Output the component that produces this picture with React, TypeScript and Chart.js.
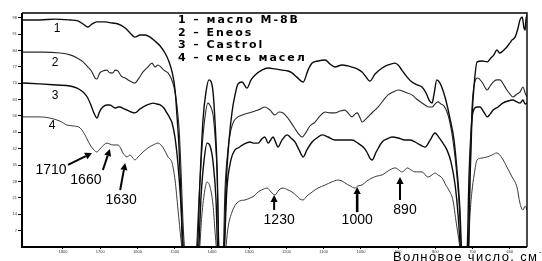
import React, { useEffect, useRef } from 'react';
import { Chart, registerables } from 'chart.js';

Chart.register(...registerables);

// ---- axis ticks ----
const xTicks = [1800, 1700, 1600, 1500, 1400, 1300, 1200, 1100, 1000, 900, 800, 700, 600];
const yTicks = [7, 14, 21, 28, 35, 42, 49, 56, 63, 70, 77, 84, 91, 98];

// ---- curve 1: масло М-8В ----
const wn1 = [1910, 1862, 1821, 1781, 1760, 1746, 1733, 1722, 1709, 1687, 1668, 1652, 1633, 1620, 1607, 1593, 1580, 1566, 1553, 1539, 1526, 1515, 1507, 1499, 1494, 1488, 1483, 1478, 1459, 1440, 1432, 1424, 1416, 1408, 1403, 1397, 1392, 1386, 1381, 1376, 1368, 1362, 1354, 1346, 1338, 1330, 1319, 1306, 1295, 1284, 1266, 1249, 1231, 1212, 1196, 1185, 1172, 1155, 1142, 1131, 1115, 1096, 1083, 1070, 1051, 1035, 1024, 1010, 997, 986, 976, 962, 943, 927, 908, 898, 890, 876, 863, 847, 836, 825, 817, 809, 804, 796, 788, 780, 772, 761, 750, 742, 734, 729, 721, 712, 707, 702, 696, 688, 675, 661, 651, 643, 635, 627, 616, 608, 600, 594, 586, 578, 573, 567, 562, 559, 557, 554];
const t1 = [97.0, 97.0, 97.4, 97.0, 96.6, 95.3, 94.0, 95.3, 96.2, 96.2, 95.7, 95.3, 93.6, 91.5, 89.7, 90.6, 90.6, 89.7, 88.0, 85.9, 82.9, 79.1, 74.8, 67.1, 56.4, 41.5, 20.1, -3.4, -6.4, -3.4, 28.6, 54.3, 66.2, 71.4, 70.9, 66.2, 54.3, 32.9, -3.4, -6.4, -3.4, 26.5, 45.7, 57.7, 65.0, 69.7, 70.5, 67.9, 71.4, 73.5, 75.6, 76.5, 76.1, 75.6, 75.2, 74.4, 72.6, 70.5, 75.6, 78.6, 79.5, 79.9, 78.2, 76.9, 77.8, 77.4, 76.9, 76.1, 74.8, 72.6, 70.9, 73.9, 76.5, 77.8, 78.6, 77.4, 75.6, 72.6, 70.5, 69.2, 68.4, 65.8, 62.8, 61.5, 65.0, 71.4, 70.1, 67.1, 62.8, 55.1, 45.7, 32.9, 15.8, -3.4, -6.4, -3.4, 28.6, 54.3, 69.2, 79.1, 79.5, 79.1, 80.8, 82.1, 84.2, 82.9, 84.2, 85.5, 87.2, 88.5, 89.7, 93.6, 97.0, 98.3, 93.6, 92.7, 97.0, 99.1];

// ---- curve 2: Eneos ----
const wn2 = [1910, 1854, 1808, 1781, 1762, 1746, 1733, 1722, 1714, 1709, 1701, 1693, 1682, 1674, 1666, 1660, 1652, 1644, 1633, 1625, 1615, 1607, 1596, 1585, 1572, 1561, 1553, 1545, 1537, 1529, 1518, 1510, 1502, 1494, 1488, 1483, 1478, 1472, 1459, 1443, 1435, 1427, 1419, 1411, 1403, 1397, 1392, 1386, 1381, 1376, 1370, 1365, 1357, 1349, 1341, 1330, 1311, 1292, 1276, 1258, 1244, 1231, 1220, 1209, 1196, 1180, 1169, 1158, 1147, 1137, 1123, 1110, 1096, 1083, 1070, 1056, 1043, 1032, 1024, 1016, 1010, 1002, 997, 989, 981, 968, 954, 941, 927, 914, 900, 882, 863, 847, 828, 817, 809, 801, 793, 785, 777, 766, 755, 745, 737, 729, 721, 712, 707, 702, 696, 686, 675, 661, 653, 645, 635, 627, 616, 608, 600, 592, 581, 573, 565, 559, 554];
const t2 = [83.3, 83.3, 82.9, 82.1, 80.8, 79.1, 76.9, 74.8, 72.2, 71.8, 74.4, 75.2, 75.6, 74.4, 74.4, 75.6, 75.2, 73.1, 72.2, 71.4, 70.5, 70.1, 72.2, 74.8, 76.9, 78.6, 76.9, 77.8, 76.9, 75.6, 74.4, 72.2, 68.4, 60.7, 50.0, 32.9, 11.5, -3.4, -6.4, -3.4, 20.1, 41.5, 55.1, 61.5, 59.8, 56.4, 47.9, 30.8, -3.4, -6.4, -3.4, 24.4, 41.5, 50.0, 53.8, 55.6, 56.8, 57.7, 58.5, 59.8, 58.5, 56.4, 57.7, 57.3, 55.1, 51.3, 48.7, 47.0, 49.1, 51.7, 53.4, 56.0, 57.7, 57.3, 57.3, 58.1, 58.5, 56.8, 55.6, 56.8, 57.3, 55.1, 53.4, 54.3, 55.6, 57.7, 59.8, 62.4, 65.0, 66.2, 67.1, 66.2, 65.0, 62.8, 60.7, 59.8, 59.8, 61.1, 62.0, 61.1, 60.3, 56.4, 47.9, 35.0, 20.1, -3.4, -6.4, -3.4, 30.8, 58.5, 69.2, 72.2, 70.5, 67.1, 68.8, 70.5, 71.4, 71.4, 69.2, 67.1, 65.4, 64.1, 65.4, 66.2, 68.4, 65.8, 64.1];

// ---- curve 3: Castrol ----
const wn3 = [1910, 1862, 1816, 1781, 1762, 1746, 1735, 1725, 1717, 1709, 1701, 1693, 1682, 1674, 1660, 1652, 1647, 1636, 1628, 1617, 1607, 1593, 1574, 1558, 1548, 1539, 1529, 1521, 1513, 1507, 1499, 1491, 1483, 1475, 1459, 1437, 1429, 1421, 1413, 1405, 1397, 1389, 1384, 1376, 1368, 1360, 1349, 1338, 1330, 1314, 1298, 1287, 1276, 1266, 1258, 1249, 1244, 1236, 1228, 1223, 1212, 1198, 1188, 1177, 1166, 1155, 1145, 1131, 1118, 1104, 1088, 1070, 1048, 1024, 1008, 994, 984, 976, 970, 959, 943, 930, 916, 900, 882, 868, 855, 841, 828, 814, 801, 793, 782, 769, 758, 747, 739, 731, 721, 715, 710, 704, 699, 688, 680, 670, 661, 653, 645, 632, 619, 605, 592, 581, 573, 565, 559, 554];
const t3 = [70.1, 69.7, 69.2, 68.8, 67.9, 66.2, 64.1, 60.7, 57.3, 55.1, 58.1, 59.8, 60.7, 60.7, 59.4, 59.8, 59.8, 59.0, 58.5, 57.7, 57.3, 59.0, 60.7, 61.5, 61.1, 60.7, 59.4, 57.3, 55.1, 53.0, 46.6, 35.0, 17.9, -3.4, -6.4, -3.4, 22.2, 37.2, 44.4, 43.2, 36.3, 20.1, -3.4, -6.4, -3.4, 24.4, 37.2, 41.5, 42.3, 44.0, 44.9, 44.4, 44.4, 46.2, 47.0, 44.4, 45.3, 47.0, 44.4, 42.7, 45.7, 47.9, 46.6, 44.9, 41.5, 38.5, 41.5, 44.9, 46.6, 47.9, 47.0, 45.7, 45.7, 45.7, 44.4, 42.7, 40.6, 38.0, 37.2, 40.6, 44.9, 46.2, 47.0, 46.6, 45.7, 45.7, 44.9, 43.6, 42.7, 45.7, 48.7, 47.4, 44.9, 41.5, 36.3, 26.5, 13.7, -3.4, -6.4, -3.4, 28.6, 50.0, 57.7, 59.8, 59.8, 57.7, 55.6, 56.8, 58.5, 59.8, 61.5, 62.4, 62.8, 62.0, 61.5, 62.8, 61.1, 61.5];

// ---- curve 4: смесь масел ----
const wn4 = [1910, 1862, 1835, 1808, 1789, 1770, 1754, 1741, 1727, 1717, 1709, 1701, 1693, 1682, 1674, 1666, 1652, 1644, 1639, 1628, 1620, 1612, 1607, 1596, 1585, 1572, 1558, 1545, 1537, 1529, 1518, 1507, 1499, 1491, 1483, 1478, 1459, 1435, 1427, 1419, 1413, 1405, 1397, 1392, 1386, 1376, 1365, 1357, 1346, 1335, 1325, 1311, 1298, 1287, 1276, 1266, 1252, 1241, 1231, 1220, 1209, 1196, 1185, 1172, 1164, 1155, 1145, 1131, 1115, 1096, 1078, 1062, 1051, 1043, 1029, 1016, 1008, 997, 984, 970, 957, 943, 927, 908, 898, 890, 882, 876, 865, 855, 836, 820, 809, 801, 793, 782, 772, 761, 753, 745, 737, 731, 721, 712, 707, 702, 696, 688, 675, 661, 648, 635, 621, 608, 594, 581, 573, 565, 559, 554];
const t4 = [55.6, 55.6, 55.1, 53.8, 52.1, 51.7, 50.9, 47.9, 43.6, 41.5, 40.6, 41.9, 43.2, 44.4, 44.0, 43.6, 43.6, 41.9, 40.2, 38.5, 39.3, 38.0, 37.2, 38.9, 40.6, 42.3, 43.6, 44.4, 43.6, 41.9, 38.5, 35.9, 28.6, 15.8, 3.0, -3.4, -6.4, -3.4, 13.7, 24.4, 27.8, 25.6, 17.9, 7.3, -3.4, -6.4, -3.4, 8.1, 15.0, 18.4, 19.7, 20.1, 20.9, 21.8, 23.5, 24.4, 25.2, 23.5, 22.2, 24.4, 25.2, 24.4, 23.5, 21.8, 20.5, 20.1, 21.8, 23.5, 25.2, 26.5, 27.8, 28.6, 28.2, 27.4, 26.1, 25.2, 26.1, 26.5, 28.2, 29.5, 30.3, 30.8, 32.5, 33.8, 32.9, 32.1, 32.9, 33.8, 32.9, 32.1, 32.1, 29.9, 30.8, 31.6, 30.8, 29.5, 26.5, 23.5, 20.1, 11.5, 3.0, -3.4, -6.4, -3.4, 13.7, 23.5, 30.8, 37.2, 38.0, 38.5, 39.3, 40.2, 38.0, 34.2, 29.9, 25.6, 18.8, 15.8, 17.5, 15.8];

// ---- texts ----
const legendLines = ['1 – масло М-8В', '2 – Eneos', '3 – Castrol', '4 – смесь масел'];
const curveNames = ['1', '2', '3', '4'];
const curveNameWn = [1816, 1821, 1821, 1829];
const curveNameT = [93.2, 78.6, 64.5, 51.7];
const annLabels = ['1710', '1660', '1630', '1230', '1000', '890'];
const annWn = [1722, 1674, 1633, 1233, 1010, 895];
const annT = [40.2, 41.9, 35.9, 22.2, 25.6, 29.9];
const axisTitle = 'Волновое число, см';
const axisTitleSup = '-1';

// layout / style (pixels)
const annTail = [[-24, 12], [-7, 21], [-5, 27], [0, 15], [0, 25], [0, 23]];
const annText = [[-41, 17], [-24, 31], [-4, 37], [5, 25], [0, 33], [5, 33]];
const annWidth = [2, 2, 2, 2, 2.6, 2];
const seriesColors = ['#0c0c0c', '#2a2a2a', '#0c0c0c', '#3a3a3a'];
const seriesWidths = [1.4, 1.1, 1.4, 1.0];

function drawArrow(ctx: CanvasRenderingContext2D, x0: number, y0: number, x1: number, y1: number, w: number) {
  const ang = Math.atan2(y1 - y0, x1 - x0);
  const hl = 7, hw = 3.6;
  const bx = x1 - hl * Math.cos(ang), by = y1 - hl * Math.sin(ang);
  ctx.lineWidth = w;
  ctx.beginPath();
  ctx.moveTo(x0, y0);
  ctx.lineTo(bx, by);
  ctx.stroke();
  ctx.beginPath();
  ctx.moveTo(x1, y1);
  ctx.lineTo(bx + hw * Math.sin(ang), by - hw * Math.cos(ang));
  ctx.lineTo(bx - hw * Math.sin(ang), by + hw * Math.cos(ang));
  ctx.closePath();
  ctx.fill();
}

function fitSpacing(ctx: CanvasRenderingContext2D, text: string, target: number) {
  (ctx as any).letterSpacing = '0px';
  const w = ctx.measureText(text).width;
  const n = Array.from(text).length;
  return Math.max(0, (target - w) / (n - 1));
}

const overlay = {
  id: 'overlay',
  afterDraw(chart: any) {
    const { ctx, chartArea: a, scales } = chart;
    const xs = scales.x, ys = scales.y;
    ctx.save();
    ctx.strokeStyle = '#000';
    ctx.fillStyle = '#000';
    // frame
    ctx.lineWidth = 2;
    ctx.beginPath();
    ctx.moveTo(a.left, a.top);
    ctx.lineTo(a.left, a.bottom);
    ctx.lineTo(a.right, a.bottom);
    ctx.stroke();
    ctx.lineWidth = 1.4;
    ctx.beginPath();
    ctx.moveTo(a.left, a.top);
    ctx.lineTo(a.right, a.top);
    ctx.lineTo(a.right, a.bottom);
    ctx.stroke();

    // curve numbers
    ctx.font = '12px "Liberation Sans", Arial, sans-serif';
    ctx.textAlign = 'center';
    ctx.textBaseline = 'middle';
    curveNames.forEach((n, i) => {
      ctx.fillText(n, xs.getPixelForValue(curveNameWn[i]), ys.getPixelForValue(curveNameT[i]));
    });

    // legend
    ctx.font = 'bold 11px "DejaVu Sans", sans-serif';
    ctx.textAlign = 'left';
    const ls = fitSpacing(ctx, legendLines[0], 120);
    (ctx as any).letterSpacing = ls.toFixed(2) + 'px';
    const legY = [7, 20, 32, 45];
    legendLines.forEach((t, i) => {
      ctx.fillText(t, a.left + 156, a.top + legY[i]);
    });
    (ctx as any).letterSpacing = '0px';

    // annotations
    ctx.strokeStyle = '#000';
    ctx.font = '14px "Liberation Sans", Arial, sans-serif';
    ctx.textAlign = 'center';
    ctx.textBaseline = 'middle';
    annLabels.forEach((lab, i) => {
      const px = xs.getPixelForValue(annWn[i]);
      const py = ys.getPixelForValue(annT[i]);
      drawArrow(ctx, px + annTail[i][0], py + annTail[i][1], px, py, annWidth[i]);
      ctx.fillText(lab, px + annText[i][0], py + annText[i][1]);
    });

    // axis title (bottom right, partly cut)
    ctx.font = '13px "Liberation Sans", Arial, sans-serif';
    ctx.textAlign = 'left';
    ctx.textBaseline = 'alphabetic';
    const ts = fitSpacing(ctx, axisTitle, 144);
    (ctx as any).letterSpacing = ts.toFixed(2) + 'px';
    ctx.fillText(axisTitle, a.left + 371, a.bottom + 14);
    (ctx as any).letterSpacing = '0px';
    ctx.font = '8px "Liberation Sans", Arial, sans-serif';
    ctx.fillText(axisTitleSup, a.left + 517, a.bottom + 7);
    ctx.restore();
  },
};

export default function App() {
  const ref = useRef<HTMLCanvasElement | null>(null);
  useEffect(() => {
    if (!ref.current) return;
    const mk = (wn: number[], t: number[]) => wn.map((x, i) => ({ x, y: t[i] }));
    const sets = [[wn1, t1], [wn2, t2], [wn3, t3], [wn4, t4]];
    const chart = new Chart(ref.current, {
      type: 'line',
      data: {
        datasets: sets.map(([w, t], i) => ({
          label: legendLines[i],
          data: mk(w as number[], t as number[]),
          borderColor: seriesColors[i],
          borderWidth: seriesWidths[i],
          pointRadius: 0,
          cubicInterpolationMode: 'monotone' as const,
          fill: false,
        })),
      },
      options: {
        responsive: false,
        animation: false,
        events: [],
        layout: { padding: { top: 13, right: 15, left: 0, bottom: 0 } },
        plugins: { legend: { display: false }, tooltip: { enabled: false } },
        scales: {
          x: {
            type: 'linear',
            reverse: true,
            min: 554,
            max: 1910,
            afterBuildTicks: (s: any) => { s.ticks = xTicks.map((v) => ({ value: v })); },
            afterFit: (s: any) => { s.height = 14; },
            border: { display: false },
            grid: { drawOnChartArea: false, tickLength: 2, color: '#000' },
            ticks: { font: { size: 4 }, color: '#333', padding: 0, maxRotation: 0, autoSkip: false, callback: (v: any) => String(v) },
          },
          y: {
            type: 'linear',
            min: 0,
            max: 100,
            afterBuildTicks: (s: any) => { s.ticks = yTicks.map((v) => ({ value: v })); },
            afterFit: (s: any) => { s.width = 22; },
            border: { display: false },
            grid: { drawOnChartArea: false, tickLength: 4, color: '#000' },
            ticks: { font: { size: 4 }, color: '#333', padding: 1, autoSkip: false, callback: (v: any) => String(v) },
          },
        },
      },
      plugins: [overlay],
    });
    return () => chart.destroy();
  }, []);
  return (
    <div style={{ position: 'fixed', left: 0, top: 0, width: 542, height: 261, background: '#fff' }}>
      <canvas ref={ref} width={542} height={261} style={{ display: 'block' }} />
    </div>
  );
}
